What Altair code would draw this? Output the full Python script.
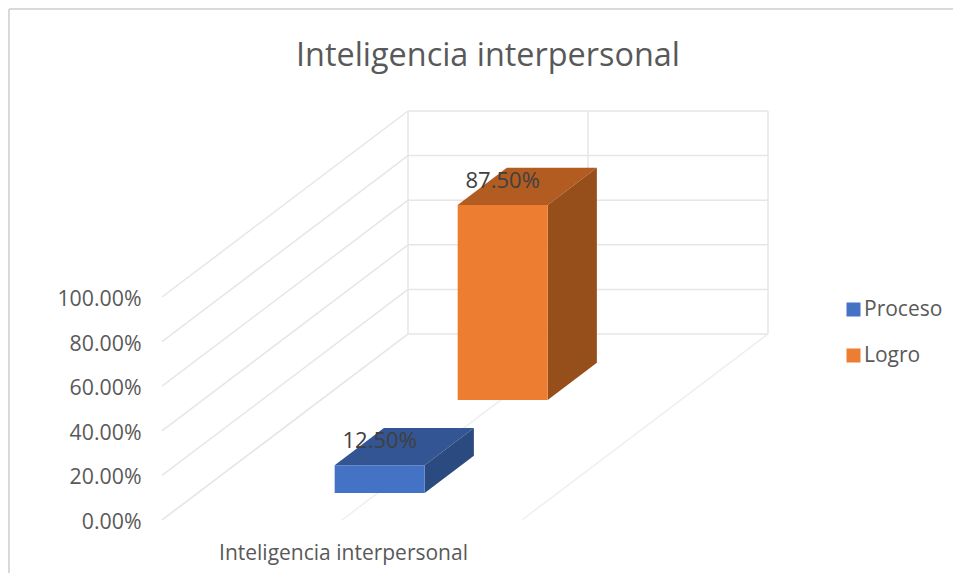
import altair as alt
import pandas as pd

# ---- chart values ----
TITLE = "Inteligencia interpersonal"
CATEGORY = "Inteligencia interpersonal"
SERIES = ["Proceso", "Logro"]
VALUES = [0.125, 0.875]
TICKS = [0.0, 0.2, 0.4, 0.6, 0.8, 1.0]
FRONT = ["#4472C4", "#ED7D31"]
TOP = ["#335593", "#B25C22"]
SIDE = ["#2B4A80", "#964F1B"]

# ---- oblique projection of the 3-D plot box: value + depth -> scale units ----
BOX_W = 360.0
DEPTH_X = 246.0
DEPTH_Y = 0.834
BAR_U = (137.0, 227.0)
BAR_DEPTH = [(0.145, 0.345), (0.645, 0.845)]
FONT = "Open Sans"
GREY = "#595959"

def px(u, d):
    return u + d * DEPTH_X

def py(v, d):
    return v + d * DEPTH_Y

XS = alt.Scale(domain=[0, 606], nice=False, zero=False)
YS = alt.Scale(domain=[0, 1.834], nice=False, zero=False)

axis_y = alt.Axis(values=TICKS, format=".2%", title=None, grid=False, domain=False, ticks=False,
                  labelFont=FONT, labelFontSize=21.3, labelColor=GREY, labelPadding=21, labelOffset=2.5)
axis_x = alt.Axis(values=[BOX_W / 2], labelExpr=f"'{CATEGORY}'", title=None, grid=False, domain=False,
                  ticks=False, labelFont=FONT, labelFontSize=21, labelColor=GREY, labelPadding=22,
                  labelLimit=400, labelOffset=1)

def X(f):
    return alt.X(f"{f}:Q", scale=XS, axis=axis_x, stack=None)

def Y(f):
    return alt.Y(f"{f}:Q", scale=YS, axis=axis_y, stack=None)

# walls and floor
walls, floor = [], []
for t in TICKS:
    walls.append(dict(x=px(0, 0), y=py(t, 0), x2=px(0, 1), y2=py(t, 1)))
    walls.append(dict(x=px(0, 1), y=py(t, 1), x2=px(BOX_W, 1), y2=py(t, 1)))
for u in [0, BOX_W / 2, BOX_W]:
    walls.append(dict(x=px(u, 1), y=py(0, 1), x2=px(u, 1), y2=py(1, 1)))
    floor.append(dict(x=px(u, 0), y=py(0, 0), x2=px(u, 1), y2=py(0, 1)))

frame = alt.Chart(pd.DataFrame({"k": [0]})).mark_rule(color="#D9D9D9", strokeWidth=2, clip=False)
layers = [
    alt.Chart(pd.DataFrame(floor)).mark_rule(color="#EFEFEF", strokeWidth=1.5).encode(
        x=X("x"), x2="x2:Q", y=Y("y"), y2="y2:Q"),
    alt.Chart(pd.DataFrame(walls)).mark_rule(color="#E6E6E6", strokeWidth=1.5).encode(
        x=X("x"), x2="x2:Q", y=Y("y"), y2="y2:Q"),
]

legend = alt.Legend(title=None, orient="none", legendX=681, legendY=188, symbolType="square",
                    symbolSize=196, symbolStrokeWidth=0, labelFont=FONT, labelFontSize=21,
                    labelColor=GREY, rowPadding=24, labelOffset=0)

for i, (s, v) in enumerate(zip(SERIES, VALUES)):
    d0, d1 = BAR_DEPTH[i]
    u0, u1 = BAR_U
    top = pd.DataFrame([
        dict(y=py(v, d0), x=px(u0, d0), x2=px(u1, d0)),
        dict(y=py(v, d1), x=px(u0, d1), x2=px(u1, d1)),
    ])
    side = pd.DataFrame([
        dict(x=px(u1, d0), y=py(0, d0), y2=py(v, d0)),
        dict(x=px(u1, d1), y=py(0, d1), y2=py(v, d1)),
    ])
    front = pd.DataFrame([dict(x=px(u0, d0), x2=px(u1, d0), y=py(0, d0), y2=py(v, d0), s=s)])
    layers.append(alt.Chart(top).mark_area(orient="horizontal", color=TOP[i]).encode(
        y=Y("y"), x=X("x"), x2="x2:Q"))
    layers.append(alt.Chart(side).mark_area(orient="vertical", color=SIDE[i]).encode(
        x=X("x"), y=Y("y"), y2="y2:Q"))
    layers.append(alt.Chart(front).mark_rect().encode(
        x=X("x"), x2="x2:Q", y=Y("y"), y2="y2:Q",
        color=alt.Color("s:N", legend=legend,
                        scale=alt.Scale(domain=SERIES, range=FRONT))))

labels = pd.DataFrame([
    dict(x=px(sum(BAR_U) / 2, BAR_DEPTH[i][0]), y=py(v, BAR_DEPTH[i][0]), v=v)
    for i, v in enumerate(VALUES)
])
layers.append(alt.Chart(labels).mark_text(font=FONT, fontSize=22, color="#404040", dy=-24).encode(
    x=X("x"), y=Y("y"), text=alt.Text("v:Q", format=".2%")))

layers.append(frame.encode(x=alt.value(-153), x2=alt.value(800), y=alt.value(-102)))
layers.append(frame.encode(x=alt.value(-153), y=alt.value(-102), y2=alt.value(470)))

chart = alt.layer(*layers).properties(
    width=606, height=409,
    padding={"left": 154, "top": 103, "right": 185, "bottom": 53},
    autosize=alt.AutoSizeParams(type="none"),
    background="white",
    title=alt.TitleParams(TITLE, font=FONT, fontSize=32.4, fontWeight="normal", color=GREY,
                          anchor="middle", frame="group", dx=23, offset=-64),
).configure_view(stroke=None)

chart.save("out.html", embed_options={"renderer": "svg", "actions": False})
